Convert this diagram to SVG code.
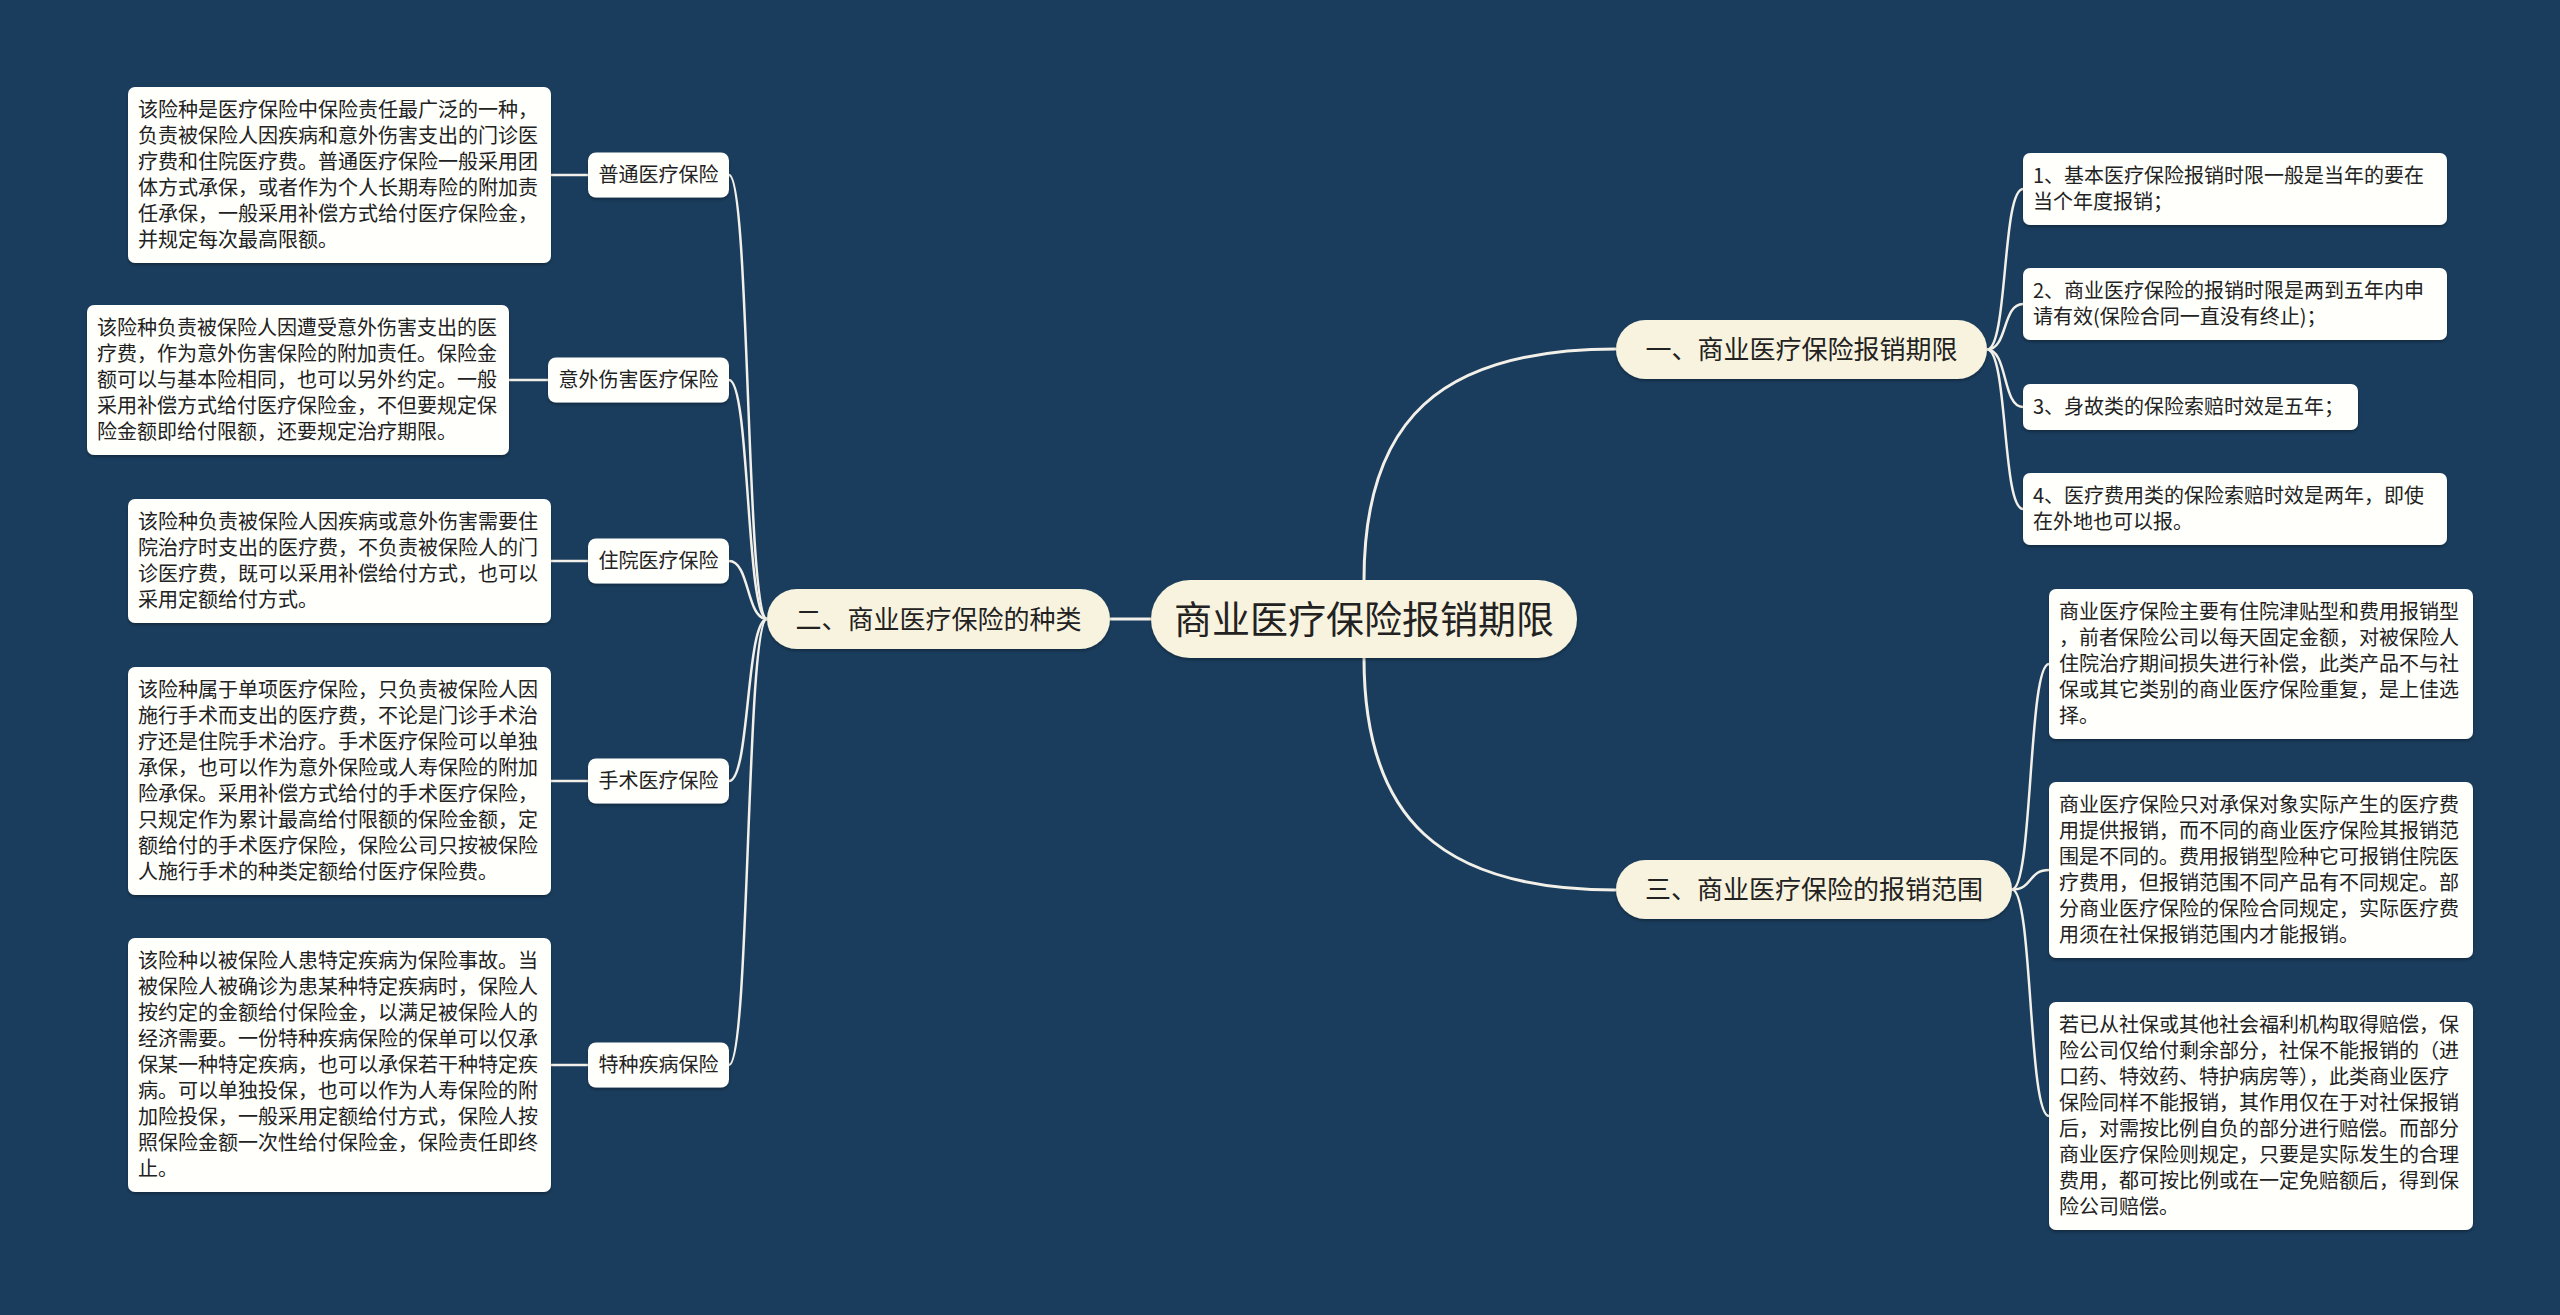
<svg xmlns="http://www.w3.org/2000/svg" width="2560" height="1315" viewBox="0 0 2560 1315">
<defs>
<filter id="sh" x="-5%" y="-10%" width="110%" height="130%">
<feDropShadow dx="0" dy="2" stdDeviation="1.5" flood-color="#000" flood-opacity="0.3"/>
</filter>
<style>
text{font-family:"Noto Sans CJK SC","Liberation Sans",sans-serif;fill:#222;}
.leaf{fill:#fffffb;filter:url(#sh);}
.mid{fill:#fffffb;filter:url(#sh);}
.main{fill:#f8f3df;filter:url(#sh);}
.lt{font-size:20px;}
.mt{font-size:20px;text-anchor:middle;}
.l1t{font-size:26px;text-anchor:middle;}
.ct{font-size:38px;text-anchor:middle;}
.c{fill:none;stroke:#f2f0e8;stroke-width:2.5;}
.cm{fill:none;stroke:#f2f0e8;stroke-width:3;}
</style>
</defs>
<rect width="2560" height="1315" fill="#1a3d5d"/>
<g id="connectors">
<path class="cm" d="M1364 580 C1364 420 1440 349 1616 349"/>
<path class="cm" d="M1364 658 C1364 818 1440 890 1616 890"/>
<path class="cm" d="M1110 619 H1151"/>
<path class="c" d="M767 619 C746 619 750 175 729 175"/>
<path class="c" d="M767 619 C746 619 750 380 729 380"/>
<path class="c" d="M767 619 C746 619 750 561 729 561"/>
<path class="c" d="M767 619 C746 619 750 781 729 781"/>
<path class="c" d="M767 619 C746 619 750 1065 729 1065"/>
<path class="c" d="M551 175 H588"/>
<path class="c" d="M509 380 H548"/>
<path class="c" d="M551 561 H588"/>
<path class="c" d="M551 781 H588"/>
<path class="c" d="M551 1065 H588"/>
<path class="c" d="M1987 349.5 C2008 349.5 2002 189 2023 189"/>
<path class="c" d="M1987 349.5 C2008 349.5 2002 304 2023 304"/>
<path class="c" d="M1987 349.5 C2008 349.5 2002 407 2023 407"/>
<path class="c" d="M1987 349.5 C2008 349.5 2002 509 2023 509"/>
<path class="c" d="M2012 889.5 C2033 889.5 2028 664 2049 664"/>
<path class="c" d="M2012 889.5 C2033 889.5 2028 870 2049 870"/>
<path class="c" d="M2012 889.5 C2033 889.5 2028 1116 2049 1116"/>
</g>
<g id="root">
<rect class="main" x="1151" y="580" width="426" height="78" rx="39"/>
<text class="ct" x="1364" y="633">商业医疗保险报销期限</text>
</g>
<g id="b1">
<rect class="main" x="1616" y="320" width="371" height="59" rx="29.5"/>
<text class="l1t" x="1801.5" y="359">一、商业医疗保险报销期限</text>
</g>
<g id="b2">
<rect class="main" x="767" y="589" width="343" height="60" rx="30"/>
<text class="l1t" x="938.5" y="628.5">二、商业医疗保险的种类</text>
</g>
<g id="b3">
<rect class="main" x="1616" y="860" width="396" height="59" rx="29.5"/>
<text class="l1t" x="1814" y="899">三、商业医疗保险的报销范围</text>
</g>
<g id="m1">
<rect class="mid" x="588" y="152.5" width="141" height="45" rx="8"/>
<text class="mt" x="658.5" y="182">普通医疗保险</text>
</g>
<g id="m2">
<rect class="mid" x="548" y="357.5" width="181" height="45" rx="8"/>
<text class="mt" x="638.5" y="387">意外伤害医疗保险</text>
</g>
<g id="m3">
<rect class="mid" x="588" y="538.5" width="141" height="45" rx="8"/>
<text class="mt" x="658.5" y="568">住院医疗保险</text>
</g>
<g id="m4">
<rect class="mid" x="588" y="758.5" width="141" height="45" rx="8"/>
<text class="mt" x="658.5" y="788">手术医疗保险</text>
</g>
<g id="m5">
<rect class="mid" x="588" y="1042.5" width="141" height="45" rx="8"/>
<text class="mt" x="658.5" y="1072">特种疾病保险</text>
</g>
<g id="l1">
<rect class="leaf" x="128" y="87" width="423" height="176" rx="7"/>
<text class="lt"><tspan x="138" y="117">该险种是医疗保险中保险责任最广泛的一种，</tspan><tspan x="138" y="143">负责被保险人因疾病和意外伤害支出的门诊医</tspan><tspan x="138" y="169">疗费和住院医疗费。普通医疗保险一般采用团</tspan><tspan x="138" y="195">体方式承保，或者作为个人长期寿险的附加责</tspan><tspan x="138" y="221">任承保，一般采用补偿方式给付医疗保险金，</tspan><tspan x="138" y="247">并规定每次最高限额。</tspan></text>
</g>
<g id="l2">
<rect class="leaf" x="87" y="305" width="422" height="150" rx="7"/>
<text class="lt"><tspan x="97" y="335">该险种负责被保险人因遭受意外伤害支出的医</tspan><tspan x="97" y="361">疗费，作为意外伤害保险的附加责任。保险金</tspan><tspan x="97" y="387">额可以与基本险相同，也可以另外约定。一般</tspan><tspan x="97" y="413">采用补偿方式给付医疗保险金，不但要规定保</tspan><tspan x="97" y="439">险金额即给付限额，还要规定治疗期限。</tspan></text>
</g>
<g id="l3">
<rect class="leaf" x="128" y="499" width="423" height="124" rx="7"/>
<text class="lt"><tspan x="138" y="529">该险种负责被保险人因疾病或意外伤害需要住</tspan><tspan x="138" y="555">院治疗时支出的医疗费，不负责被保险人的门</tspan><tspan x="138" y="581">诊医疗费，既可以采用补偿给付方式，也可以</tspan><tspan x="138" y="607">采用定额给付方式。</tspan></text>
</g>
<g id="l4">
<rect class="leaf" x="128" y="667" width="423" height="228" rx="7"/>
<text class="lt"><tspan x="138" y="697">该险种属于单项医疗保险，只负责被保险人因</tspan><tspan x="138" y="723">施行手术而支出的医疗费，不论是门诊手术治</tspan><tspan x="138" y="749">疗还是住院手术治疗。手术医疗保险可以单独</tspan><tspan x="138" y="775">承保，也可以作为意外保险或人寿保险的附加</tspan><tspan x="138" y="801">险承保。采用补偿方式给付的手术医疗保险，</tspan><tspan x="138" y="827">只规定作为累计最高给付限额的保险金额，定</tspan><tspan x="138" y="853">额给付的手术医疗保险，保险公司只按被保险</tspan><tspan x="138" y="879">人施行手术的种类定额给付医疗保险费。</tspan></text>
</g>
<g id="l5">
<rect class="leaf" x="128" y="938" width="423" height="254" rx="7"/>
<text class="lt"><tspan x="138" y="968">该险种以被保险人患特定疾病为保险事故。当</tspan><tspan x="138" y="994">被保险人被确诊为患某种特定疾病时，保险人</tspan><tspan x="138" y="1020">按约定的金额给付保险金，以满足被保险人的</tspan><tspan x="138" y="1046">经济需要。一份特种疾病保险的保单可以仅承</tspan><tspan x="138" y="1072">保某一种特定疾病，也可以承保若干种特定疾</tspan><tspan x="138" y="1098">病。可以单独投保，也可以作为人寿保险的附</tspan><tspan x="138" y="1124">加险投保，一般采用定额给付方式，保险人按</tspan><tspan x="138" y="1150">照保险金额一次性给付保险金，保险责任即终</tspan><tspan x="138" y="1176">止。</tspan></text>
</g>
<g id="r1">
<rect class="leaf" x="2023" y="153" width="424" height="72" rx="7"/>
<text class="lt"><tspan x="2033" y="183">1、基本医疗保险报销时限一般是当年的要在</tspan><tspan x="2033" y="209">当个年度报销；</tspan></text>
</g>
<g id="r2">
<rect class="leaf" x="2023" y="268" width="424" height="72" rx="7"/>
<text class="lt"><tspan x="2033" y="298">2、商业医疗保险的报销时限是两到五年内申</tspan><tspan x="2033" y="324">请有效(保险合同一直没有终止)；</tspan></text>
</g>
<g id="r3">
<rect class="leaf" x="2023" y="384" width="335" height="46" rx="7"/>
<text class="lt"><tspan x="2033" y="414">3、身故类的保险索赔时效是五年；</tspan></text>
</g>
<g id="r4">
<rect class="leaf" x="2023" y="473" width="424" height="72" rx="7"/>
<text class="lt"><tspan x="2033" y="503">4、医疗费用类的保险索赔时效是两年，即使</tspan><tspan x="2033" y="529">在外地也可以报。</tspan></text>
</g>
<g id="r5">
<rect class="leaf" x="2049" y="589" width="424" height="150" rx="7"/>
<text class="lt"><tspan x="2059" y="619">商业医疗保险主要有住院津贴型和费用报销型</tspan><tspan x="2059" y="645">，前者保险公司以每天固定金额，对被保险人</tspan><tspan x="2059" y="671">住院治疗期间损失进行补偿，此类产品不与社</tspan><tspan x="2059" y="697">保或其它类别的商业医疗保险重复，是上佳选</tspan><tspan x="2059" y="723">择。</tspan></text>
</g>
<g id="r6">
<rect class="leaf" x="2049" y="782" width="424" height="176" rx="7"/>
<text class="lt"><tspan x="2059" y="812">商业医疗保险只对承保对象实际产生的医疗费</tspan><tspan x="2059" y="838">用提供报销，而不同的商业医疗保险其报销范</tspan><tspan x="2059" y="864">围是不同的。费用报销型险种它可报销住院医</tspan><tspan x="2059" y="890">疗费用，但报销范围不同产品有不同规定。部</tspan><tspan x="2059" y="916">分商业医疗保险的保险合同规定，实际医疗费</tspan><tspan x="2059" y="942">用须在社保报销范围内才能报销。</tspan></text>
</g>
<g id="r7">
<rect class="leaf" x="2049" y="1002" width="424" height="228" rx="7"/>
<text class="lt"><tspan x="2059" y="1032">若已从社保或其他社会福利机构取得赔偿，保</tspan><tspan x="2059" y="1058">险公司仅给付剩余部分，社保不能报销的（进</tspan><tspan x="2059" y="1084">口药、特效药、特护病房等），此类商业医疗</tspan><tspan x="2059" y="1110">保险同样不能报销，其作用仅在于对社保报销</tspan><tspan x="2059" y="1136">后，对需按比例自负的部分进行赔偿。而部分</tspan><tspan x="2059" y="1162">商业医疗保险则规定，只要是实际发生的合理</tspan><tspan x="2059" y="1188">费用，都可按比例或在一定免赔额后，得到保</tspan><tspan x="2059" y="1214">险公司赔偿。</tspan></text>
</g>
</svg>
